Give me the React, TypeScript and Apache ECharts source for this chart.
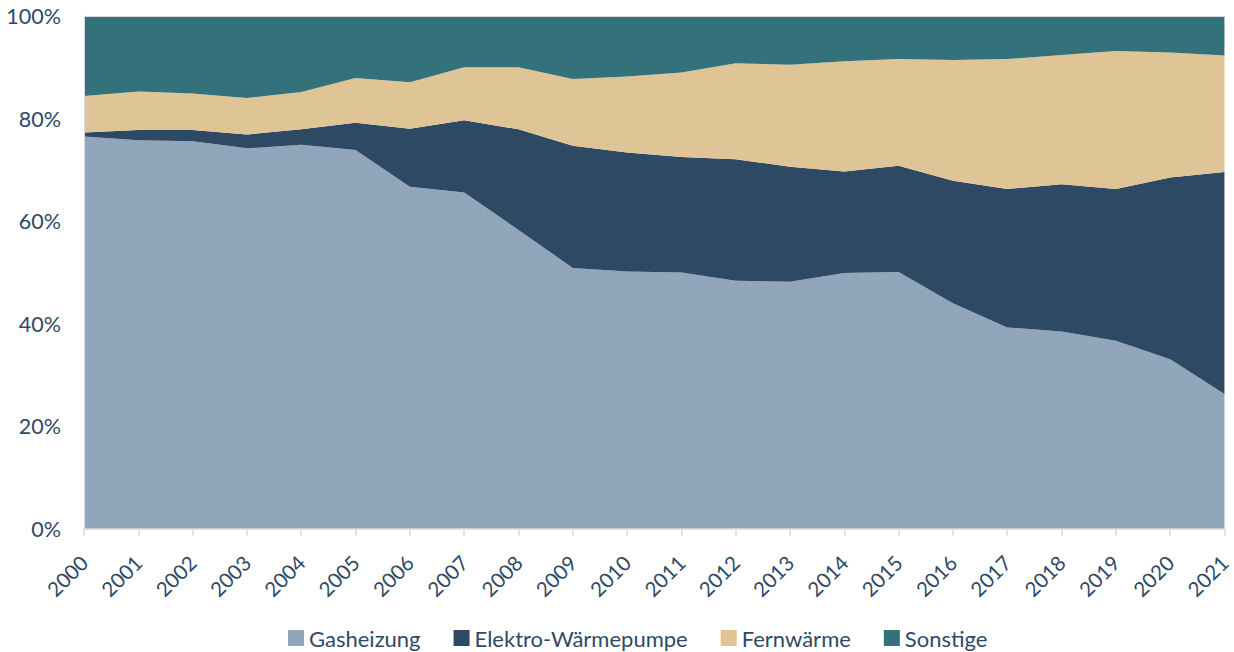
import React, { useEffect, useRef } from "react";
import * as echarts from "echarts";

const years = ["2000","2001","2002","2003","2004","2005","2006","2007","2008","2009","2010","2011","2012","2013","2014","2015","2016","2017","2018","2019","2020","2021"];
const gasheizung = [76.5,75.8,75.6,74.2,74.9,73.9,66.7,65.6,58.3,50.9,50.2,50.0,48.4,48.2,49.9,50.1,44.0,39.3,38.5,36.7,33.1,26.3];
const elektro = [0.8,2.0,2.2,2.7,3.0,5.3,11.3,14.1,19.6,23.8,23.2,22.5,23.7,22.4,19.8,20.7,23.9,27.0,28.7,29.6,35.4,43.3];
const fernwaerme = [7.1,7.5,7.1,7.1,7.3,8.7,9.1,10.3,12.1,13.0,14.8,16.5,18.7,19.9,21.5,20.8,23.5,25.3,25.2,26.9,24.4,22.7];
const sonstige = [15.6,14.7,15.1,16.0,14.8,12.1,12.9,10.0,10.0,12.3,11.8,11.0,9.2,9.5,8.8,8.4,8.6,8.4,7.6,6.8,7.1,7.7];

const seriesNames = ["Gasheizung", "Elektro-Wärmepumpe", "Fernwärme", "Sonstige"];
const seriesColors = ["#91a6bb", "#2e4963", "#dfc496", "#33717b"];
const seriesData = [gasheizung, elektro, fernwaerme, sonstige];

const TEXT = "#2e4a66";
const FONT = "Lato, 'Noto Sans', sans-serif";

export default function App() {
  const ref = useRef<HTMLDivElement>(null);
  useEffect(() => {
    if (!ref.current) return;
    const chart = echarts.init(ref.current, undefined, { renderer: "svg" });
    chart.setOption({
      animation: false,
      backgroundColor: "#ffffff",
      textStyle: { fontFamily: FONT, color: TEXT },
      grid: { left: 84, right: 8, top: 16, bottom: 123, containLabel: false },
      legend: {
        left: 288,
        top: 627,
        padding: 0,
        icon: "rect",
        itemWidth: 16,
        itemHeight: 16,
        itemGap: 33,
        textStyle: { fontFamily: FONT, fontSize: 22, color: TEXT },
        data: seriesNames,
      },
      xAxis: [
        {
          type: "category",
          data: years,
          boundaryGap: false,
          z: 5,
          axisLine: { show: true, lineStyle: { color: "#d9d9d9", width: 1.5 } },
          axisTick: { show: true, length: 7, lineStyle: { color: "#d9d9d9", width: 1.5 } },
          axisLabel: { rotate: 45, fontSize: 20.5, color: TEXT, fontFamily: FONT, margin: 30, interval: 0 },
        },
        {
          type: "category",
          data: years,
          boundaryGap: false,
          position: "top",
          z: 5,
          axisLine: { show: true, lineStyle: { color: "#d9d9d9", width: 1 } },
          axisTick: { show: false },
          axisLabel: { show: false },
        },
      ],
      yAxis: {
        type: "value",
        min: 0,
        max: 100,
        interval: 20,
        z: 5,
        axisLine: { show: true, lineStyle: { color: "#d9d9d9" } },
        axisTick: { show: false },
        splitLine: { show: false },
        axisLabel: { formatter: "{value}%", fontSize: 21.5, color: TEXT, fontFamily: FONT, margin: 23 },
      },
      series: seriesNames.map((name, i) => ({
        name,
        type: "line",
        stack: "total",
        data: seriesData[i],
        symbol: "none",
        lineStyle: { width: 0 },
        areaStyle: { color: seriesColors[i], opacity: 1 },
        itemStyle: { color: seriesColors[i] },
      })),
    });
    return () => chart.dispose();
  }, []);
  return <div ref={ref} style={{ width: 1234, height: 652, position: "absolute", left: 0, top: 0 }} />;
}
